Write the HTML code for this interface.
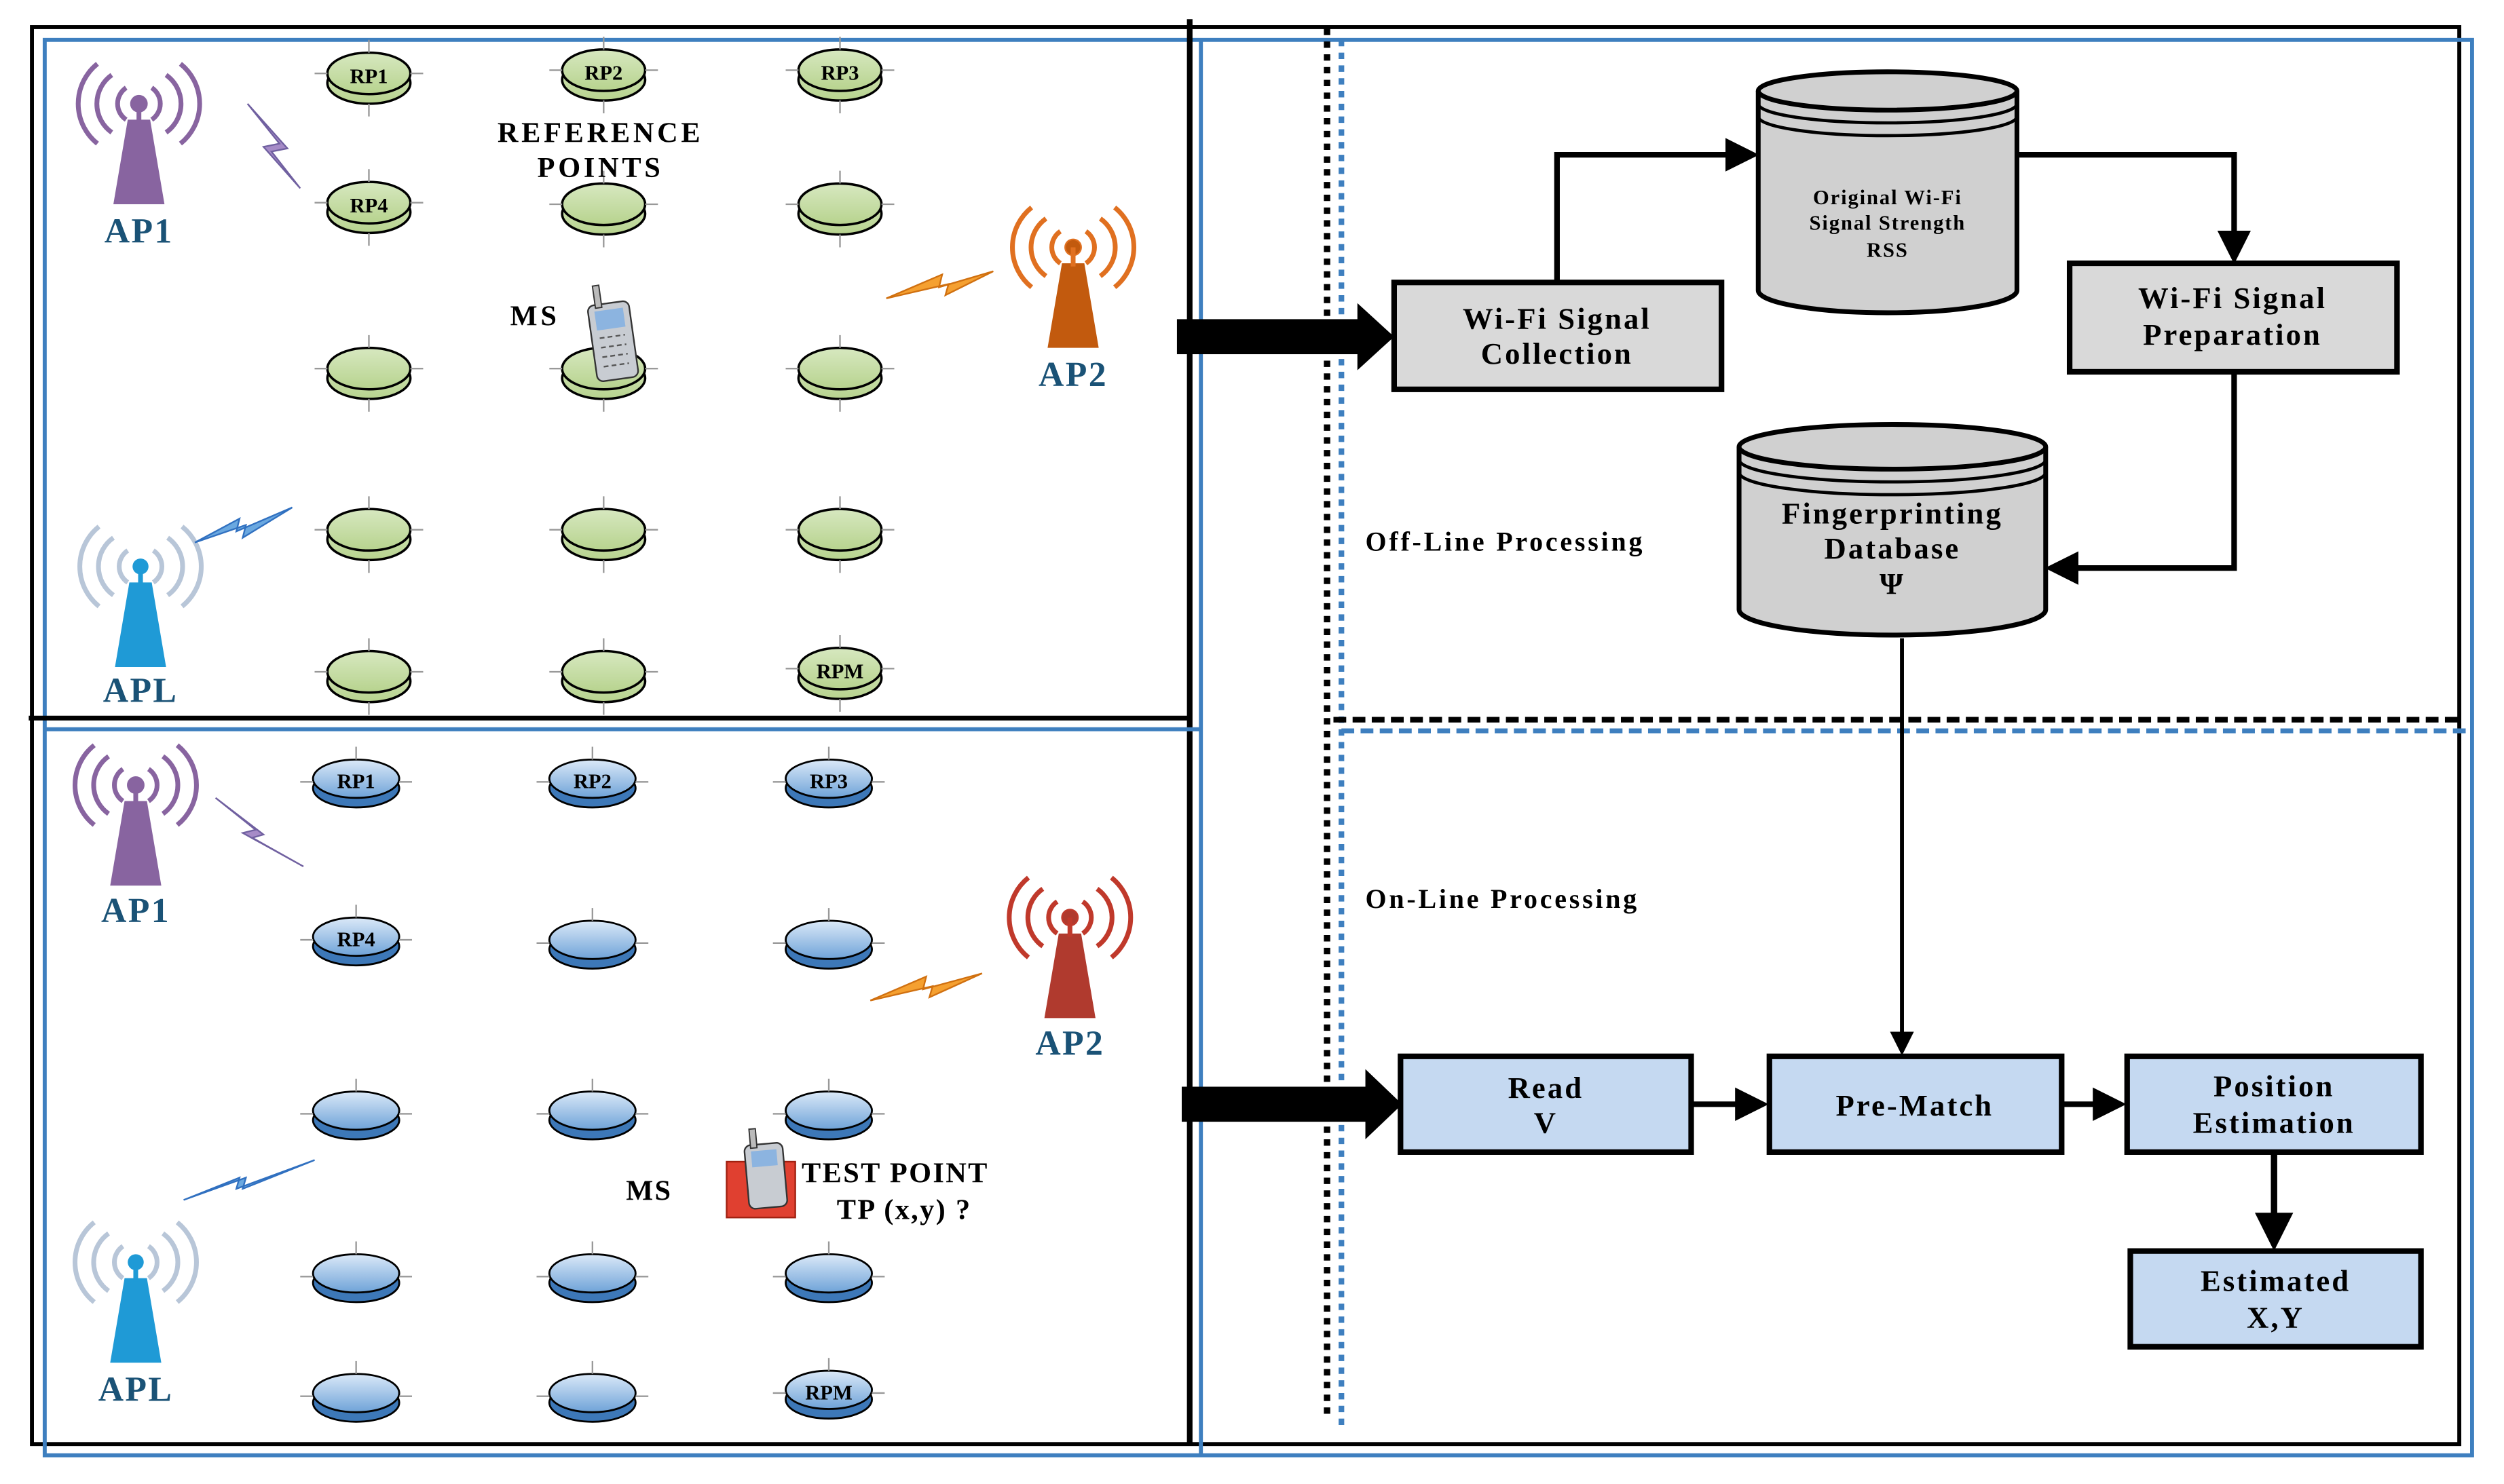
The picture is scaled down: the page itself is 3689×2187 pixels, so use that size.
<!DOCTYPE html>
<html><head><meta charset="utf-8"><style>html,body{margin:0;padding:0;background:#fff}svg{display:block}</style></head>
<body>
<svg width="3689" height="2187" viewBox="0 0 1568 930" preserveAspectRatio="none" xmlns="http://www.w3.org/2000/svg" font-family="'Liberation Serif',serif" font-weight="bold">
<defs>
<linearGradient id="g" x1="0" y1="0" x2="0" y2="1"><stop offset="0" stop-color="#d7e8c0"/><stop offset="1" stop-color="#b7d38e"/></linearGradient>
<linearGradient id="b" x1="0" y1="0" x2="0" y2="1"><stop offset="0" stop-color="#dbe9f8"/><stop offset="1" stop-color="#6fa3d8"/></linearGradient>
<marker id="ah" markerWidth="6" markerHeight="6" refX="5" refY="3" orient="auto" markerUnits="strokeWidth"><path d="M0,0 L6,3 L0,6 z" fill="#000"/></marker>
<g id="gc"><ellipse cx="0" cy="6" rx="26" ry="13" fill="url(#g)" stroke="#000" stroke-width="1.5"/><ellipse cx="0" cy="0" rx="26" ry="13" fill="url(#g)" stroke="#000" stroke-width="1.5"/><path d="M-34,0h8M26,0h8M0,-21v8M0,19v8" stroke="#999" stroke-width="1"/></g>
<g id="bc"><ellipse cx="0" cy="6" rx="27" ry="12" fill="#3d78b8" stroke="#000" stroke-width="1.2"/><ellipse cx="0" cy="0" rx="27" ry="12" fill="url(#b)" stroke="#000" stroke-width="1.2"/><path d="M-35,2h8M27,2h8M0,-20v8" stroke="#999" stroke-width="1"/></g>
</defs>
<rect x="20" y="17" width="1520" height="888" fill="none" stroke="#000" stroke-width="2.5"/>
<rect x="28" y="25" width="1520" height="887" fill="none" stroke="#3e7fbf" stroke-width="2.5"/>
<line x1="745" y1="12" x2="745" y2="905" stroke="#000" stroke-width="3.5"/>
<line x1="752" y1="25" x2="752" y2="912" stroke="#3e7fbf" stroke-width="2.5"/>
<line x1="18" y1="450" x2="745" y2="450" stroke="#000" stroke-width="3"/>
<line x1="28" y1="457" x2="752" y2="457" stroke="#3e7fbf" stroke-width="2.5"/>
<line x1="831" y1="18" x2="831" y2="890" stroke="#000" stroke-width="4" stroke-dasharray="4,4"/>
<line x1="840" y1="25" x2="840" y2="895" stroke="#3e7fbf" stroke-width="3.5" stroke-dasharray="4,4"/>
<line x1="835" y1="451" x2="1540" y2="451" stroke="#000" stroke-width="3.5" stroke-dasharray="8,4"/>
<line x1="840" y1="458" x2="1548" y2="458" stroke="#3e7fbf" stroke-width="3" stroke-dasharray="8,4"/>

<g fill="#8864a0" stroke="#8864a0"><path d="M80,75h14l9,53h-32z" stroke="none"/><circle cx="87" cy="65" r="5"/><path d="M87,65v12" stroke-width="3"/>
<g fill="none" stroke-width="3"><path d="M79,55a12,12 0 0 0 0,20M95,55a12,12 0 0 1 0,20M70,47a22,22 0 0 0 0,36M104,47a22,22 0 0 1 0,36M61,40a32,32 0 0 0 0,50M113,40a32,32 0 0 1 0,50"/></g></g>
<g fill="#8864a0" stroke="#8864a0" transform="translate(-2,427)"><path d="M80,75h14l9,53h-32z" stroke="none"/><circle cx="87" cy="65" r="5"/><path d="M87,65v12" stroke-width="3"/>
<g fill="none" stroke-width="3"><path d="M79,55a12,12 0 0 0 0,20M95,55a12,12 0 0 1 0,20M70,47a22,22 0 0 0 0,36M104,47a22,22 0 0 1 0,36M61,40a32,32 0 0 0 0,50M113,40a32,32 0 0 1 0,50"/></g></g>
<g fill="#c25a0e" stroke="#e07020" transform="translate(585,90)"><path d="M80,75h14l9,53h-32z" stroke="none"/><circle cx="87" cy="65" r="5"/><path d="M87,65v12" stroke-width="3"/>
<g fill="none" stroke-width="3"><path d="M79,55a12,12 0 0 0 0,20M95,55a12,12 0 0 1 0,20M70,47a22,22 0 0 0 0,36M104,47a22,22 0 0 1 0,36M61,40a32,32 0 0 0 0,50M113,40a32,32 0 0 1 0,50"/></g></g>
<g fill="#b03a2e" stroke="#c0392b" transform="translate(583,510)"><path d="M80,75h14l9,53h-32z" stroke="none"/><circle cx="87" cy="65" r="5"/><path d="M87,65v12" stroke-width="3"/>
<g fill="none" stroke-width="3"><path d="M79,55a12,12 0 0 0 0,20M95,55a12,12 0 0 1 0,20M70,47a22,22 0 0 0 0,36M104,47a22,22 0 0 1 0,36M61,40a32,32 0 0 0 0,50M113,40a32,32 0 0 1 0,50"/></g></g>
<g fill="#1f9ad6" transform="translate(1,290)"><path d="M80,75h14l9,53h-32z"/><circle cx="87" cy="65" r="5"/><path d="M87,65v12" stroke="#1f9ad6" stroke-width="3"/>
<g fill="none" stroke="#b8c6d8" stroke-width="3"><path d="M79,55a12,12 0 0 0 0,20M95,55a12,12 0 0 1 0,20M70,47a22,22 0 0 0 0,36M104,47a22,22 0 0 1 0,36M61,40a32,32 0 0 0 0,50M113,40a32,32 0 0 1 0,50"/></g></g>
<g fill="#1f9ad6" transform="translate(-2,726)"><path d="M80,75h14l9,53h-32z"/><circle cx="87" cy="65" r="5"/><path d="M87,65v12" stroke="#1f9ad6" stroke-width="3"/>
<g fill="none" stroke="#b8c6d8" stroke-width="3"><path d="M79,55a12,12 0 0 0 0,20M95,55a12,12 0 0 1 0,20M70,47a22,22 0 0 0 0,36M104,47a22,22 0 0 1 0,36M61,40a32,32 0 0 0 0,50M113,40a32,32 0 0 1 0,50"/></g></g>
<g font-size="22" text-anchor="middle" fill="#1a5276" letter-spacing="1"><text x="87" y="152">AP1</text><text x="672" y="242">AP2</text><text x="88" y="440">APL</text><text x="85" y="578">AP1</text><text x="670" y="661">AP2</text><text x="85" y="878">APL</text></g>

<g stroke-width="1"><path d="M155,65 L175,90 L165,92 L188,118 L170,95 L180,93z" fill="#a68bc7" stroke="#7060a0"/>
<path d="M555,187 L590,172 L588,180 L622,170 L592,185 L594,178z" fill="#f5a030" stroke="#d07010"/>
<path d="M122,340 L150,325 L148,333 L183,318 L152,337 L154,329z" fill="#6aa8e0" stroke="#3070c0"/>
<path d="M135,500 L160,520 L152,522 L190,543 L158,525 L165,523z" fill="#a68bc7" stroke="#7060a0"/>
<path d="M545,627 L580,612 L578,620 L615,610 L582,625 L584,618z" fill="#f5a030" stroke="#d07010"/>
<path d="M115,752 L150,738 L148,745 L197,727 L152,745 L154,738z" fill="#6aa8e0" stroke="#3070c0"/></g>

<use href="#gc" x="231" y="46"/><use href="#gc" x="378" y="44"/><use href="#gc" x="526" y="44"/>
<use href="#gc" x="231" y="127"/><use href="#gc" x="378" y="128"/><use href="#gc" x="526" y="128"/>
<use href="#gc" x="231" y="231"/><use href="#gc" x="378" y="231"/><use href="#gc" x="526" y="231"/>
<use href="#gc" x="231" y="332"/><use href="#gc" x="378" y="332"/><use href="#gc" x="526" y="332"/>
<use href="#gc" x="231" y="421"/><use href="#gc" x="378" y="421"/><use href="#gc" x="526" y="419"/>
<g font-size="13" text-anchor="middle"><text x="231" y="52">RP1</text><text x="378" y="50">RP2</text><text x="526" y="50">RP3</text><text x="231" y="133">RP4</text><text x="526" y="425">RPM</text></g>
<g font-size="18" text-anchor="middle" letter-spacing="2"><text x="376" y="89">REFERENCE</text><text x="376" y="111">POINTS</text><text x="335" y="204">MS</text></g>
<g transform="translate(366,180) rotate(-8)"><rect x="0" y="12" width="26" height="48" rx="4" fill="#c8ccd2" stroke="#333"/><rect x="4" y="16" width="18" height="12" fill="#8cb4e0"/><rect x="5" y="0" width="4" height="14" fill="#bbb" stroke="#333" stroke-width="0.8"/><path d="M5,33h16M5,39h16M5,45h16M5,51h16" stroke="#555" stroke-dasharray="3,2"/></g>

<use href="#bc" x="223" y="488"/><use href="#bc" x="371" y="488"/><use href="#bc" x="519" y="488"/>
<use href="#bc" x="223" y="587"/><use href="#bc" x="371" y="589"/><use href="#bc" x="519" y="589"/>
<use href="#bc" x="223" y="696"/><use href="#bc" x="371" y="696"/><use href="#bc" x="519" y="696"/>
<use href="#bc" x="223" y="798"/><use href="#bc" x="371" y="798"/><use href="#bc" x="519" y="798"/>
<use href="#bc" x="223" y="873"/><use href="#bc" x="371" y="873"/><use href="#bc" x="519" y="871"/>
<g font-size="13" text-anchor="middle"><text x="223" y="494">RP1</text><text x="371" y="494">RP2</text><text x="519" y="494">RP3</text><text x="223" y="593">RP4</text><text x="519" y="877">RPM</text></g>
<rect x="455" y="728" width="43" height="35" fill="#e04030" stroke="#a02010"/>
<g transform="translate(465,708) rotate(-5)"><rect x="0" y="10" width="24" height="40" rx="4" fill="#c8ccd2" stroke="#333"/><rect x="4" y="14" width="16" height="10" fill="#8cb4e0"/><rect x="4" y="0" width="4" height="12" fill="#bbb" stroke="#333" stroke-width="0.8"/></g>
<g font-size="18" letter-spacing="1"><text x="392" y="752">MS</text><text x="502" y="741">TEST POINT</text><text x="524" y="764">TP (x,y) ?</text></g>

<path d="M737,200 H850 V190 L873,211 L850,232 V222 H737z" fill="#000"/>
<path d="M740,681 H855 V670 L878,692 L855,714 V703 H740z" fill="#000"/>
<g fill="none" stroke="#000" stroke-width="3.5">
<path d="M975,177 V97 H1098" marker-end="url(#ah)"/>
<path d="M1263,97 H1399 V162" marker-end="url(#ah)"/>
<path d="M1399,233 V356 H1284" marker-end="url(#ah)"/>
<path d="M1191,400 V659" stroke-width="2.5" marker-end="url(#ah)"/>
<path d="M1059,692 H1104" marker-end="url(#ah)"/>
<path d="M1291,692 H1328" marker-end="url(#ah)"/>
<path d="M1424,722 V780" stroke-width="4" marker-end="url(#ah)"/>
</g>
<g stroke="#000" stroke-width="3.5" fill="#d9d9d9">
<rect x="873" y="177" width="205" height="67"/>
<rect x="1296" y="165" width="205" height="68"/>
</g>
<g stroke="#000" stroke-width="3" fill="#d0d0d0">
<path d="M1101,57 V182 A81,14 0 0 0 1263,182 V57"/>
<ellipse cx="1182" cy="57" rx="81" ry="12"/>
<path d="M1101,65 A81,12 0 0 0 1263,65 M1101,73 A81,12 0 0 0 1263,73" fill="none" stroke-width="2"/>
<path d="M1089,280 V382 A96,16 0 0 0 1281,382 V280"/>
<ellipse cx="1185" cy="280" rx="96" ry="14"/>
<path d="M1089,288 A96,14 0 0 0 1281,288 M1089,296 A96,14 0 0 0 1281,296" fill="none" stroke-width="2"/>
</g>
<g stroke="#000" stroke-width="3.5" fill="#c5d9f1">
<rect x="877" y="662" width="182" height="60"/>
<rect x="1108" y="662" width="183" height="60"/>
<rect x="1332" y="662" width="184" height="60"/>
<rect x="1334" y="784" width="182" height="60"/>
</g>
<g text-anchor="middle" font-size="19" letter-spacing="1.3">
<text x="975" y="206">Wi-Fi Signal</text><text x="975" y="228">Collection</text>
<text x="1398" y="193">Wi-Fi Signal</text><text x="1398" y="216">Preparation</text>
<text x="1185" y="328">Fingerprinting</text><text x="1185" y="350">Database</text><text x="1185" y="372">Ψ</text>
<text x="968" y="688">Read</text><text x="968" y="710">V</text>
<text x="1199" y="699">Pre-Match</text>
<text x="1424" y="687">Position</text><text x="1424" y="710">Estimation</text>
<text x="1425" y="809">Estimated</text><text x="1425" y="832">X,Y</text>
</g>
<g text-anchor="middle" font-size="13" letter-spacing="0.8"><text x="1182" y="128">Original Wi-Fi</text><text x="1182" y="144">Signal Strength</text><text x="1182" y="161">RSS</text></g>
<g font-size="17" letter-spacing="1.6"><text x="855" y="345">Off-Line Processing</text><text x="855" y="569">On-Line Processing</text></g>
</svg>
</body></html>
